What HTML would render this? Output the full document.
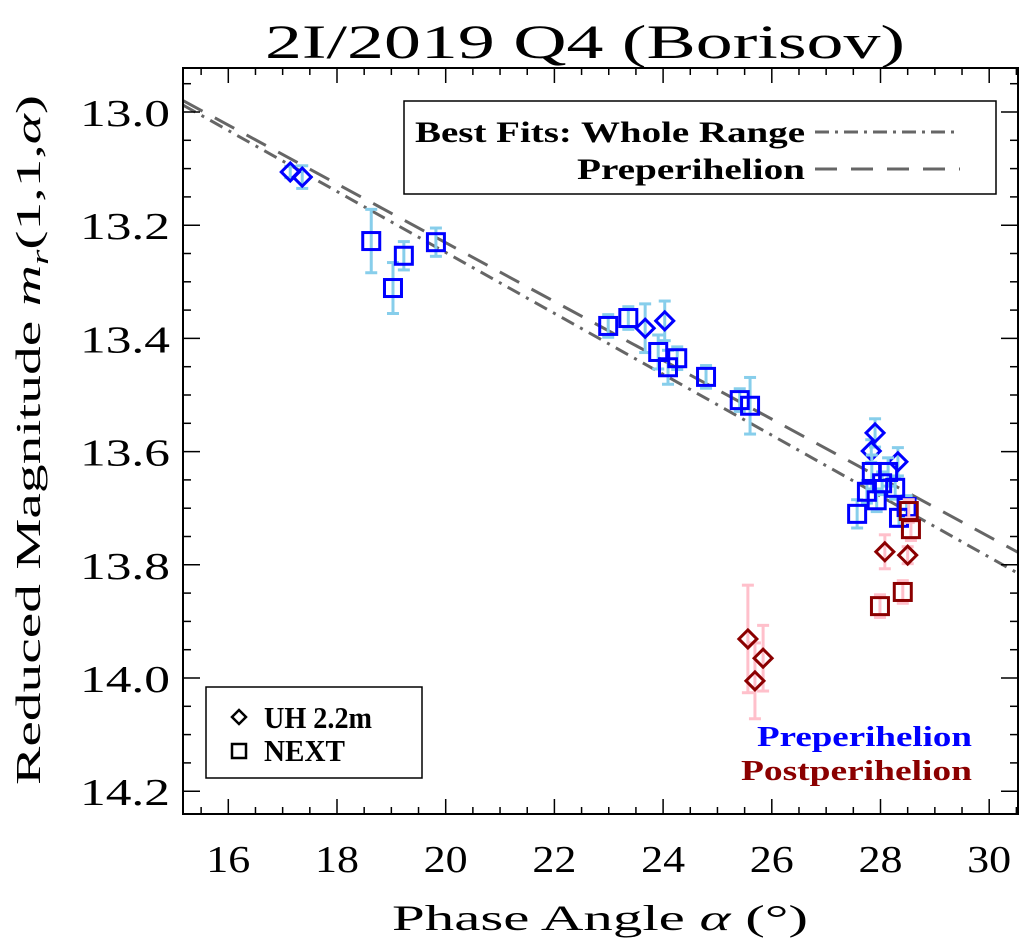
<!DOCTYPE html>
<html><head><meta charset="utf-8"><style>
html,body{margin:0;padding:0;background:#fff;}
svg text{font-family:"Liberation Serif","DejaVu Serif",serif;fill:#000;}
</style></head><body>
<svg id="chart" width="1020" height="943" viewBox="0 0 1020 943" xmlns="http://www.w3.org/2000/svg">
<text x="265" y="58" font-size="48" textLength="640" lengthAdjust="spacingAndGlyphs">2I/2019 Q4 (Borisov)</text>
<g id="fits"></g>
<g id="marks"></g>
<rect x="183" y="68" width="835" height="746" fill="none" stroke="#000" stroke-width="2"/>
<g id="axes"></g>
<text transform="translate(40,440) rotate(-90)" font-size="35" text-anchor="middle" textLength="690" lengthAdjust="spacingAndGlyphs">Reduced Magnitude <tspan font-style="italic">m</tspan><tspan font-size="24" dy="8" font-style="italic">r</tspan><tspan dy="-8">(1,1,</tspan><tspan font-style="italic">α</tspan>)</text>
<text x="392" y="930" font-size="36" textLength="416" lengthAdjust="spacingAndGlyphs">Phase Angle <tspan font-style="italic">α</tspan> (°)</text>
<g>
<rect x="404" y="101" width="592" height="93" fill="#fff" stroke="#000" stroke-width="1.5"/>
<text x="415" y="142" font-size="30" font-weight="bold" textLength="390" lengthAdjust="spacingAndGlyphs">Best Fits: Whole Range</text>
<text x="577" y="179" font-size="30" font-weight="bold" textLength="228" lengthAdjust="spacingAndGlyphs">Preperihelion</text>
<line x1="815" y1="132" x2="960" y2="132" stroke="#666" stroke-width="3" stroke-dasharray="14,6,3,6"/>
<line x1="815" y1="169" x2="960" y2="169" stroke="#666" stroke-width="3" stroke-dasharray="22,14"/>
</g>
<g>
<rect x="206" y="687" width="216" height="91" fill="#fff" stroke="#000" stroke-width="1.5"/>
<path d="M239,710 l7,7 l-7,7 l-7,-7 z" fill="none" stroke="#000" stroke-width="2.5"/>
<text x="264" y="728" font-size="31" font-weight="bold" textLength="108" lengthAdjust="spacingAndGlyphs">UH 2.2m</text>
<rect x="232" y="744" width="14" height="14" fill="none" stroke="#000" stroke-width="2.5"/>
<text x="264" y="761" font-size="31" font-weight="bold" textLength="81" lengthAdjust="spacingAndGlyphs">NEXT</text>
</g>
<text x="757" y="746" font-size="28" font-weight="bold" textLength="215" lengthAdjust="spacingAndGlyphs" style="fill:#0000ff">Preperihelion</text>
<text x="741" y="780" font-size="28" font-weight="bold" textLength="231" lengthAdjust="spacingAndGlyphs" style="fill:#8b0000">Postperihelion</text>
</svg>
<script>
const xTicks=[16,18,20,22,24,26,28,30];
const yTicks=[13.0,13.2,13.4,13.6,13.8,14.0,14.2];
const diaPreX=[17.14,17.36,23.67,24.03,27.90,27.83,28.32];
const diaPreY=[13.106,13.115,13.382,13.369,13.567,13.599,13.618];
const diaPreE=[0.01,0.02,0.043,0.035,0.025,0.02,0.025];
const diaPostX=[25.56,25.84,25.69,28.08,28.50];
const diaPostY=[13.931,13.965,14.005,13.777,13.783];
const diaPostE=[0.095,0.058,0.067,0.03,0.015];
const sqPreX=[18.63,19.03,19.23,19.82,22.99,23.36,23.91,24.09,24.26,24.79,25.41,25.60,27.84,27.75,27.93,28.03,28.14,28.27,28.48,27.57,28.34];
const sqPreY=[13.228,13.311,13.254,13.230,13.378,13.364,13.424,13.451,13.435,13.468,13.509,13.519,13.636,13.671,13.686,13.656,13.636,13.664,13.698,13.710,13.717];
const sqPreE=[0.056,0.045,0.025,0.025,0.02,0.02,0.03,0.03,0.02,0.02,0.02,0.05,0.03,0.02,0.02,0.02,0.025,0.02,0.02,0.025,0.015];
const sqPostX=[28.52,28.56,28.41,27.99];
const sqPostY=[13.705,13.737,13.848,13.873];
const sqPostE=[0.02,0.02,0.02,0.02];
const fitWholeX=[15.17,30.53], fitWholeY=[12.988,13.815];
const fitPreX=[15.17,30.53], fitPreY=[12.980,13.778];

const X0=183,X1=1018,Y0=68,Y1=814;
const sx=v=>228.3+(v-16)*54.35;
const sy=v=>112+(v-13)*566;
const NS="http://www.w3.org/2000/svg";
function mk(tag,attrs,parent){const e=document.createElementNS(NS,tag);for(const k in attrs)e.setAttribute(k,attrs[k]);parent.appendChild(e);return e;}
const axes=document.getElementById('axes');
for(let v=15.5;v<=30.5;v+=0.5){
  const x=sx(v); if(x<X0||x>X1)continue;
  const major=Math.abs(v-Math.round(v))<1e-6&&Math.round(v)%2===0;
  const L=major?15:7;
  const t=mk('line',{x1:x,y1:Y1,x2:x,y2:Y1-L,stroke:'#000','stroke-width':1.5},axes);
  
  
  const t2=mk('line',{x1:x,y1:Y0,x2:x,y2:Y0+L,stroke:'#000','stroke-width':1.5},axes);
  
  
}
xTicks.forEach(v=>{
  const t=mk('text',{x:sx(v)-22,y:872,'font-size':38,textLength:44,lengthAdjust:'spacingAndGlyphs'},axes);
  t.textContent=String(v);
  
  
});
for(let i=-1;i<=25;i++){
  const v=13+i*0.05; const y=sy(v); if(y<Y0||y>Y1)continue;
  const major=i%4===0; const L=major?17:8;
  const t=mk('line',{x1:X0,y1:y,x2:X0+L,y2:y,stroke:'#000','stroke-width':1.5},axes);
  
  
  const t2=mk('line',{x1:X1,y1:y,x2:X1-L,y2:y,stroke:'#000','stroke-width':1.5},axes);
  
  
}
yTicks.forEach(v=>{
  const t=mk('text',{x:80,y:sy(v)+14,'font-size':38,textLength:90,lengthAdjust:'spacingAndGlyphs'},axes);
  t.textContent=v.toFixed(1);
  
  
});
const fits=document.getElementById('fits');
const f1=mk('line',{x1:sx(fitWholeX[0]),y1:sy(fitWholeY[0]),x2:sx(fitWholeX[1]),y2:sy(fitWholeY[1]),stroke:'#666','stroke-width':3,'stroke-dasharray':'14,7,3,7'},fits);


const f2=mk('line',{x1:sx(fitPreX[0]),y1:sy(fitPreY[0]),x2:sx(fitPreX[1]),y2:sy(fitPreY[1]),stroke:'#666','stroke-width':3,'stroke-dasharray':'22,14'},fits);


const marks=document.getElementById('marks');
function err(x,y,e,col){
  const cx=sx(x),a=sy(y-e),b=sy(y+e);
  const g=mk('g',{stroke:col,'stroke-width':3},marks);
  
  
  mk('line',{x1:cx,y1:a,x2:cx,y2:b},g);
  mk('line',{x1:cx-6,y1:a,x2:cx+6,y2:a},g);
  mk('line',{x1:cx-6,y1:b,x2:cx+6,y2:b},g);
}
function series(X,Y,E,errCol,col,shape,name){
  X.forEach((x,i)=>err(x,Y[i],E[i],errCol));
  X.forEach((x,i)=>{
    const cx=sx(x),cy=sy(Y[i]);let m;
    if(shape==='sq') m=mk('rect',{x:cx-8.5,y:cy-8.5,width:17,height:17,fill:'none',stroke:col,'stroke-width':3},marks);
    else m=mk('path',{d:`M${cx},${cy-9} L${cx+9},${cy} L${cx},${cy+9} L${cx-9},${cy} Z`,fill:'none',stroke:col,'stroke-width':3},marks);
    
    
  });
}
series(diaPreX,diaPreY,diaPreE,'#87ceeb','#0000ff','dia','uh-preperihelion-point');
series(sqPreX,sqPreY,sqPreE,'#87ceeb','#0000ff','sq','next-preperihelion-point');
series(diaPostX,diaPostY,diaPostE,'#ffc0cb','#8b0000','dia','uh-postperihelion-point');
series(sqPostX,sqPostY,sqPostE,'#ffc0cb','#8b0000','sq','next-postperihelion-point');
</script>
</body></html>
